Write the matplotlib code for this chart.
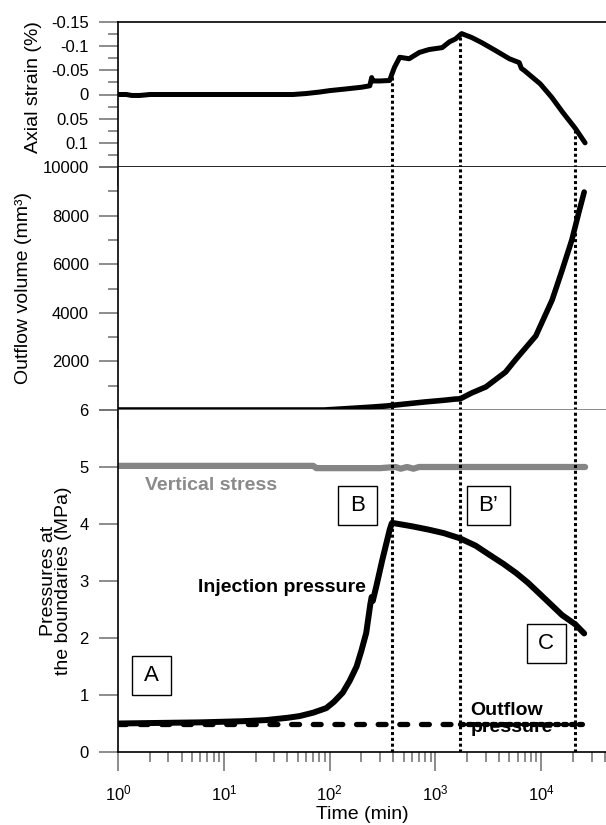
import numpy as np
import matplotlib
matplotlib.use("Agg")
import matplotlib.pyplot as plt
from matplotlib.patches import Rectangle
from matplotlib.ticker import FixedLocator, FixedFormatter, LogLocator

plt.rcParams['font.family'] = ['Liberation Sans', 'DejaVu Sans']
plt.rcParams['mathtext.fontset'] = 'custom'
plt.rcParams['mathtext.rm'] = 'Liberation Sans'
plt.rcParams['mathtext.it'] = 'Liberation Sans'

# axial strain (%)
t_strain = [1, 1.2, 1.35, 1.6, 1.8, 2, 5, 10, 20, 45, 60, 80, 100, 150, 200, 240,
            250, 255, 262, 300, 370, 385, 410, 460, 565, 705, 870, 1160, 1360, 1550,
            1770, 2200, 2760, 3700, 5000, 6200, 6500, 6900, 9800, 12600, 16000, 21000, 26000]
strain = [0, 0, 0.002, 0.002, 0.001, 0, 0, 0, 0, 0, -0.002, -0.005, -0.008, -0.012, -0.015,
          -0.018, -0.035, -0.028, -0.028, -0.028, -0.029, -0.04, -0.056, -0.077, -0.074,
          -0.087, -0.093, -0.097, -0.109, -0.115, -0.126, -0.118, -0.107, -0.091, -0.074,
          -0.066, -0.054, -0.05, -0.022, 0.006, 0.037, 0.07, 0.10]

# outflow volume (mm3)
t_vol = [1, 10, 50, 89, 150, 250, 345, 500, 790, 1200, 1540, 1720, 2200, 3000, 4600,
         5800, 8900, 12700, 15800, 19500, 22600, 25500]
volume = [0, 0, 0, 0, 60, 120, 165, 240, 330, 400, 450, 460, 700, 950, 1560,
          2100, 3050, 4530, 5760, 7000, 8100, 8970]

# injection pressure (MPa)
t_inj = [1, 6, 15, 25, 40, 52, 70, 93, 110, 133, 155, 180, 200, 222, 243, 250, 256,
         276, 315, 370, 385, 390, 600, 870, 1200, 1700, 2400, 3240, 4400, 5800, 7500,
         9500, 12500, 15800, 21000, 25500]
p_inj = [0.5, 0.52, 0.54, 0.56, 0.6, 0.63, 0.69, 0.77, 0.88, 1.04, 1.25, 1.5, 1.78,
         2.09, 2.6, 2.72, 2.65, 2.9, 3.37, 3.9, 4.0, 4.02, 3.96, 3.9, 3.84, 3.75, 3.62,
         3.46, 3.3, 3.14, 2.97, 2.79, 2.58, 2.4, 2.24, 2.08]

# vertical stress and outflow pressure (MPa)
t_vs = [1, 70, 75, 300, 420, 470, 540, 620, 700, 1000, 26000]
p_vs = [5.02, 5.02, 4.98, 4.98, 5.0, 4.97, 5.0, 4.97, 5.0, 5.0, 5.0]
t_out = [1, 1720, 26000]
p_out = [0.5, 0.5, 0.5]

# stage boundaries (min) and boxed stage labels
t_marks = [385, 1720, 21000]
stage_lab = ['A', 'B', 'B’', 'C']
stage_t = [2.09, 184, 3160, 11150]
stage_p = [1.35, 4.33, 4.32, 1.91]

W, H = 606, 825
fig = plt.figure(figsize=(W / 100, H / 100), dpi=100)

def box(top, bot):
    return [118 / W, 1 - bot / H, (W - 118) / W, (bot - top) / H]

ax1 = fig.add_axes(box(22, 167))
ax2 = fig.add_axes(box(167, 410))
ax3 = fig.add_axes(box(410, 752))

tick_col = '#6e6e6e'
for ax in (ax1, ax2, ax3):
    ax.set_xscale('log')
    ax.set_xlim(1, 4.1e4)
    ax.spines['right'].set_visible(False)
    ax.spines['left'].set_linewidth(1.2)
    ax.spines['bottom'].set_linewidth(1.2)
    ax.xaxis.set_minor_locator(LogLocator(base=10, subs=np.arange(2, 10)))
    ax.tick_params(axis='both', which='major', direction='out', length=14,
                   width=1.1, color=tick_col, labelsize=12)
    ax.tick_params(axis='both', which='minor', direction='out', length=7,
                   width=1.1, color=tick_col)
    ax.tick_params(axis='y', pad=7)
    ax.tick_params(axis='x', pad=9)
ax2.spines['top'].set_visible(False)
ax3.spines['top'].set_visible(False)
ax1.spines['top'].set_linewidth(1.2)
ax1.tick_params(axis='x', which='both', labelbottom=False)
ax2.tick_params(axis='x', which='both', labelbottom=False)
ax2.spines['bottom'].set_color('#777777')

# top: axial strain
ax1.plot(t_strain, strain, color='black', lw=3.6, solid_joinstyle='round',
         solid_capstyle='round')
ax1.set_ylim(0.15, -0.15)
ax1.yaxis.set_major_locator(FixedLocator([-0.15, -0.1, -0.05, 0, 0.05, 0.1, 0.15]))
ax1.yaxis.set_major_formatter(FixedFormatter(['-0.15', '-0.1', '-0.05', '0', '0.05', '0.1', '']))
ax1.yaxis.set_minor_locator(FixedLocator([-0.125, -0.075, -0.025, 0.025, 0.075, 0.125]))
ax1.set_ylabel('Axial strain (%)', fontsize=14)
ax1.yaxis.set_label_coords(-0.156, 0.55)

# middle: outflow volume
ax2.plot(t_vol, volume, color='black', lw=4, solid_joinstyle='round',
         solid_capstyle='round')
ax2.set_ylim(0, 10000)
ax2.yaxis.set_major_locator(FixedLocator([0, 2000, 4000, 6000, 8000, 10000]))
ax2.yaxis.set_major_formatter(FixedFormatter(['', '2000', '4000', '6000', '8000', '10000']))
ax2.yaxis.set_minor_locator(FixedLocator([1000, 3000, 5000, 7000, 9000]))
ax2.set_ylabel('Outflow volume (mm³)', fontsize=14)
ax2.yaxis.set_label_coords(-0.176, 0.5)

# bottom: pressures
ax3.plot(t_vs, p_vs, color='#858585', lw=4.5, solid_capstyle='round')
ax3.plot(t_out[:2], p_out[:2], color='black', lw=3.8, dashes=(1.5, 2.6),
         dash_capstyle='round')
ax3.plot(t_out[1:], p_out[1:], color='black', lw=3.8, dashes=(0.6, 0.9),
         dash_capstyle='round')
ax3.plot(t_inj, p_inj, color='black', lw=4.3, solid_joinstyle='round',
         solid_capstyle='round')
ax3.set_ylim(0, 6)
ax3.yaxis.set_major_locator(FixedLocator([0, 1, 2, 3, 4, 5, 6]))
ax3.set_ylabel('Pressures at\nthe boundaries (MPa)', fontsize=14, linespacing=0.85)
ax3.yaxis.set_label_coords(-0.094, 0.5)
ax3.set_xlabel('Time (min)', fontsize=14, labelpad=1.5)

# dotted stage boundaries
for tm in t_marks:
    s0 = np.interp(np.log10(tm), np.log10(t_strain), strain)
    ax1.plot([tm, tm], [s0 + 0.004, 0.15], color='black', lw=2.2, dashes=(1, 0.9),
             clip_on=False)
    ax2.plot([tm, tm], [0, 10000], color='black', lw=2.2, dashes=(1, 0.9))
    ax3.plot([tm, tm], [0, 6], color='black', lw=2.2, dashes=(1, 0.9))

ax3.text(1.8, 4.68, 'Vertical stress', color='#8a8a8a', fontsize=14,
         fontweight='bold', va='center', ha='left')
ax3.text(5.7, 2.89, 'Injection pressure', color='black', fontsize=14,
         fontweight='bold', va='center', ha='left')
ax3.text(2140, 0.58, 'Outflow\npressure', color='black', fontsize=14,
         fontweight='bold', va='center', ha='left', linespacing=1.05)

# boxed stage letters, fixed box size in pixels
for lab, tx, py in zip(stage_lab, stage_t, stage_p):
    ax3.text(tx, py, lab, fontsize=16, ha='center', va='center')
    cx, cy = ax3.transAxes.inverted().transform(ax3.transData.transform((tx, py)))
    bw = (43 if len(lab) > 1 else 39) / 488
    bh = 39 / 342
    ax3.add_patch(Rectangle((cx - bw / 2, cy - bh / 2), bw, bh, transform=ax3.transAxes,
                            fill=False, ec='black', lw=1.0))

fig.savefig('out.png', dpi=100)
